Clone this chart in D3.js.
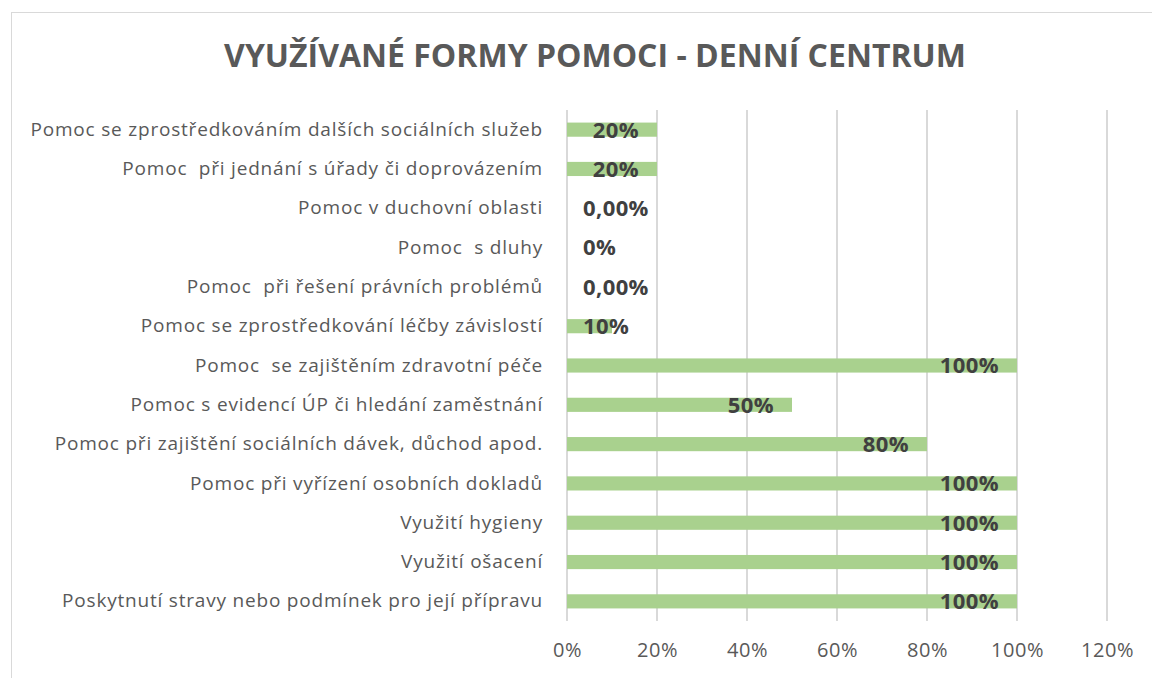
<!DOCTYPE html>
<html>
<head>
<meta charset="utf-8">
<script src="https://cdn.jsdelivr.net/npm/d3@7"></script>
<style>
  body { margin: 0; background: #fff; }
  svg { display: block; font-family: "Open Sans", sans-serif; }
  text { white-space: pre; }
</style>
</head>
<body>
<div id="chart"></div>
<script>
'use strict';

// data, top to bottom as in the chart
var categories = [
  'Pomoc se zprostředkováním dalších sociálních služeb',
  'Pomoc  při jednání s úřady či doprovázením',
  'Pomoc v duchovní oblasti',
  'Pomoc  s dluhy',
  'Pomoc  při řešení právních problémů',
  'Pomoc se zprostředkování léčby závislostí',
  'Pomoc  se zajištěním zdravotní péče',
  'Pomoc s evidencí ÚP či hledání zaměstnání',
  'Pomoc při zajištění sociálních dávek, důchod apod.',
  'Pomoc při vyřízení osobních dokladů',
  'Využití hygieny',
  'Využití ošacení',
  'Poskytnutí stravy nebo podmínek pro její přípravu'
];
var values = [0.2, 0.2, 0, 0, 0, 0.1, 1, 0.5, 0.8, 1, 1, 1, 1];
var valueLabels = ['20%', '20%', '0,00%', '0%', '0,00%', '10%', '100%', '50%', '80%', '100%', '100%', '100%', '100%'];
var ticks = [0, 0.2, 0.4, 0.6, 0.8, 1, 1.2];
var title = 'VYUŽÍVANÉ FORMY POMOCI - DENNÍ CENTRUM';

var WIDTH = 1152,
  HEIGHT = 678;
var margin = { left: 567, right: 45, top: 110, bottom: 57 };

var svg = d3.select('#chart').append('svg')
  .attr('width', WIDTH)
  .attr('height', HEIGHT);

// chart area border
svg.append('rect')
  .attr('x', 11.5)
  .attr('y', 12.5)
  .attr('width', WIDTH)
  .attr('height', HEIGHT)
  .attr('fill', 'none')
  .attr('stroke', '#d9d9d9')
  .attr('stroke-width', 1);

svg.append('text')
  .attr('x', 595)
  .attr('y', 67)
  .attr('text-anchor', 'middle')
  .attr('fill', '#595959')
  .style('font-size', '32px')
  .style('font-weight', 'bold')
  .text(title);

var x = d3.scaleLinear()
  .domain([0, 1.2])
  .range([margin.left, WIDTH - margin.right]);

var y = d3.scaleBand()
  .domain(categories)
  .range([margin.top, HEIGHT - margin.bottom])
  .paddingInner(0.64)
  .paddingOuter(0.32);

// gridlines
svg.append('g')
  .selectAll('line')
  .data(ticks)
  .join('line')
    .attr('x1', function(d) { return x(d); })
    .attr('x2', function(d) { return x(d); })
    .attr('y1', margin.top)
    .attr('y2', HEIGHT - margin.bottom)
    .attr('stroke', '#d9d9d9')
    .attr('stroke-width', 2);

// x axis labels
var xAxis = d3.axisBottom(x)
  .tickValues(ticks)
  .tickFormat(d3.format('.0%'))
  .tickSize(0)
  .tickPadding(22);

svg.append('g')
  .attr('transform', 'translate(0,' + (HEIGHT - margin.bottom) + ')')
  .call(xAxis)
  .call(function(g) { g.select('.domain').remove(); })
  .selectAll('text')
    .attr('fill', '#595959')
    .style('font-family', '"Open Sans", sans-serif')
    .style('font-size', '20px')
    .style('letter-spacing', '0.6px');

// y axis labels
var yAxis = d3.axisLeft(y)
  .tickSize(0)
  .tickPadding(24);

svg.append('g')
  .attr('transform', 'translate(' + margin.left + ',0)')
  .call(yAxis)
  .call(function(g) { g.select('.domain').remove(); })
  .selectAll('text')
    .attr('fill', '#595959')
    .style('font-family', '"Open Sans", sans-serif')
    .style('font-size', '19px')
    .style('letter-spacing', '0.8px');

// bars
svg.append('g')
  .selectAll('rect')
  .data(values)
  .join('rect')
    .attr('x', x(0))
    .attr('y', function(d, i) { return y(categories[i]); })
    .attr('width', function(d) { return x(d) - x(0); })
    .attr('height', y.bandwidth())
    .attr('fill', '#a9d18e');

// value labels, inside end
svg.append('g')
  .selectAll('text')
  .data(values)
  .join('text')
    .attr('y', function(d, i) { return y(categories[i]) + y.bandwidth() / 2; })
    .attr('dy', '0.36em')
    .attr('text-anchor', 'end')
    .attr('fill', '#404040')
    .style('font-size', '22px')
    .style('font-weight', 'bold')
    .style('letter-spacing', '0.4px')
    .text(function(d, i) { return valueLabels[i]; })
    .attr('x', function(d) {
      var w = this.getComputedTextLength();
      return Math.max(x(d) - 18, x(0) + 16 + w);
    });
</script>
</body>
</html>
